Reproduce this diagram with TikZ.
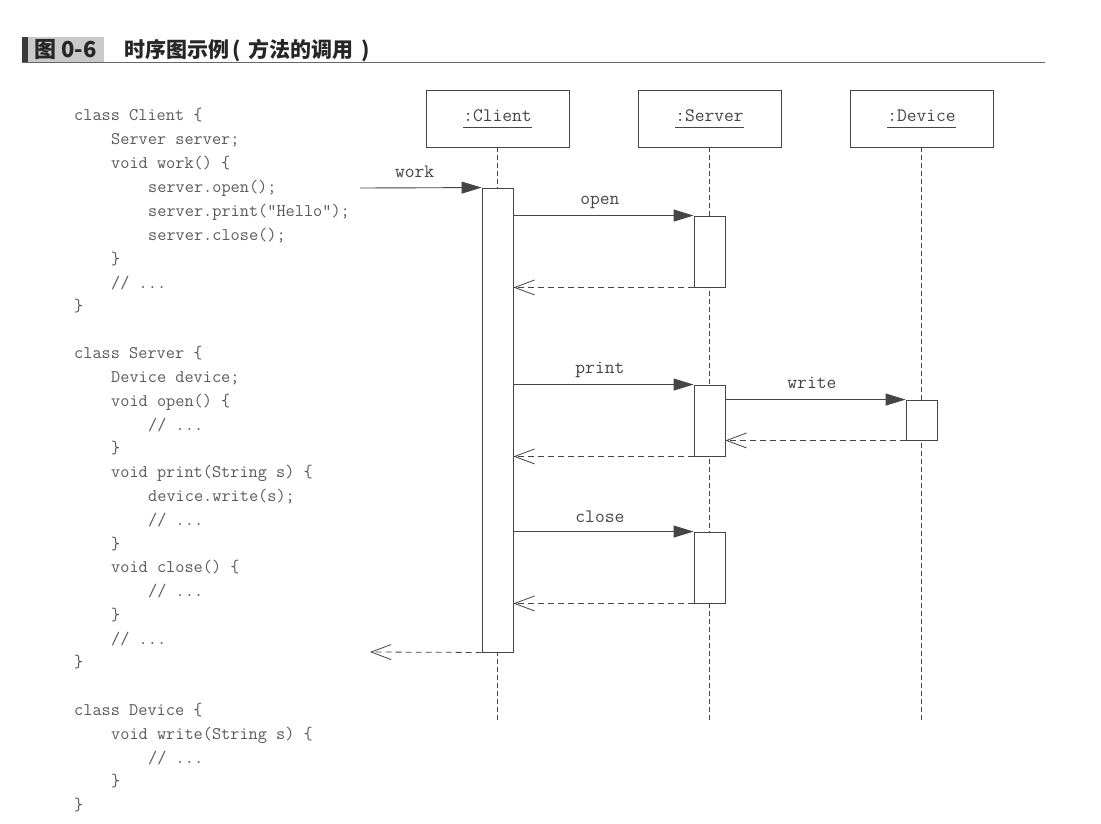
\documentclass[tikz,border=0pt]{standalone}
\usepackage{fontspec}
\newfontfamily\cjk{Noto Sans CJK SC}
\usetikzlibrary{arrows.meta}
\definecolor{ink}{HTML}{454545}
\definecolor{codeink}{HTML}{5A5A5A}
\definecolor{tagfill}{HTML}{C9C9C9}
\definecolor{tagbar}{HTML}{3A3A3A}
\newcommand\ulab[1]{\raisebox{-3pt}{\underline{#1\vphantom{y}}}}
\begin{document}
\begin{tikzpicture}[x=1pt,y=-1pt,
  hdr/.style={draw=ink, line width=0.9pt, minimum width=143pt, minimum height=57pt, inner sep=0pt,
    font=\ttfamily\fontsize{19}{19}\selectfont, text=ink},
  act/.style={draw=ink, line width=0.9pt, fill=white, minimum width=31pt, inner sep=0pt},
  life/.style={draw=ink, line width=0.8pt, dash pattern=on 5pt off 3pt},
  call/.style={draw=ink, line width=0.9pt, -{Triangle[length=20pt,width=12pt]}},
  ret/.style={draw=ink, line width=0.8pt, dash pattern=on 6pt off 4pt, -{Straight Barb[length=20pt,width=15pt]}},
  lbl/.style={font=\ttfamily\fontsize{19}{19}\selectfont, text=ink, inner sep=0pt},
  codeline/.style={font=\ttfamily\fontsize{17.8}{17.8}\selectfont, text=codeink, inner sep=0pt, anchor=base west}
]
\useasboundingbox (0,0) rectangle (1101,823);
\fill[white] (0,0) rectangle (1101,823);

% title bar
\fill[tagfill] (22,37) rectangle (104,62);
\fill[tagbar] (22,37) rectangle (28,62);
\node[anchor=west, inner sep=0pt, text=black!85, font=\cjk\bfseries\fontsize{22}{22}\selectfont] (fig) at (34,50) {图 0-6};
\node[anchor=west, inner sep=0pt, text=black!85, font=\cjk\bfseries\fontsize{21}{21}\selectfont] (title) at (124,50) {时序图示例\hspace{3pt}(\hspace{8pt}方法的调用\hspace{8pt})};
\draw[line width=1.6pt, black!60] (22,62.5) -- (1045,62.5);

% lifeline heads
\node[hdr] (hc) at (497.5,118.5) {\ulab{:Client}};
\node[hdr] (hs) at (709.5,118.5) {\ulab{:Server}};
\node[hdr] (hd) at (921.5,118.5) {\ulab{:Device}};

\coordinate (ce) at (497.5,722);
\coordinate (se) at (709.5,722);
\coordinate (de) at (921.5,722);
\draw[life] (hc.south) -- (ce);
\draw[life] (hs.south) -- (se);
\draw[life] (hd.south) -- (de);

% activations
\node[act, minimum height=464pt] (ca) at (497.5,420) {};
\node[act, minimum height=71pt] (s1) at (709.5,251.5) {};
\node[act, minimum height=71pt] (s2) at (709.5,420.5) {};
\node[act, minimum height=40pt] (d1) at (921.5,420) {};
\node[act, minimum height=71pt] (s3) at (709.5,567.5) {};

% messages
\coordinate (ws) at (360,188);
\draw[call] (ws) -- (ca.north west) node[lbl, pos=0.45, above=10pt] (lwork) {work};
\draw[call] (ca.east |- s1.north) -- (s1.north west) node[lbl, pos=0.48, above=6pt] (lopen) {open};
\draw[ret] (s1.south west) -- (ca.east |- s1.south);
\draw[call] (ca.east |- s2.north) -- (s2.north west) node[lbl, pos=0.48, above=6pt] (lprint) {print};
\draw[call] (s2.east |- d1.north) -- (d1.north west) node[lbl, pos=0.48, above=10pt] (lwrite) {write};
\draw[ret] (d1.south west) -- (s2.east |- d1.south);
\draw[ret] (s2.south west) -- (ca.east |- s2.south);
\draw[call] (ca.east |- s3.north) -- (s3.north west) node[lbl, pos=0.48, above=8pt] (lclose) {close};
\draw[ret] (s3.south west) -- (ca.east |- s3.south);
\coordinate (we) at (370,652);
\draw[ret] (ca.south west) -- (we);

% code
\foreach \yy/\ii/\tx [count=\n] in {
  115/0/{class Client \{},
  139/1/{Server server;},
  163/1/{void work() \{},
  187/2/{server.open();},
  211/2/{server.print("Hello");},
  235/2/{server.close();},
  259/1/{\}},
  283/1/{// ...},
  306/0/{\}},
  353/0/{class Server \{},
  377/1/{Device device;},
  401/1/{void open() \{},
  425/2/{// ...},
  448/1/{\}},
  472/1/{void print(String s) \{},
  496/2/{device.write(s);},
  520/2/{// ...},
  544/1/{\}},
  567/1/{void close() \{},
  591/2/{// ...},
  615/1/{\}},
  639/1/{// ...},
  662/0/{\}},
  710/0/{class Device \{},
  734/1/{void write(String s) \{},
  758/2/{// ...},
  781/1/{\}},
  805/0/{\}}
}{
  \node[codeline] (code\n) at ({74+37*\ii},{\yy+5}) {\tx};
}
\end{tikzpicture}
\end{document}
